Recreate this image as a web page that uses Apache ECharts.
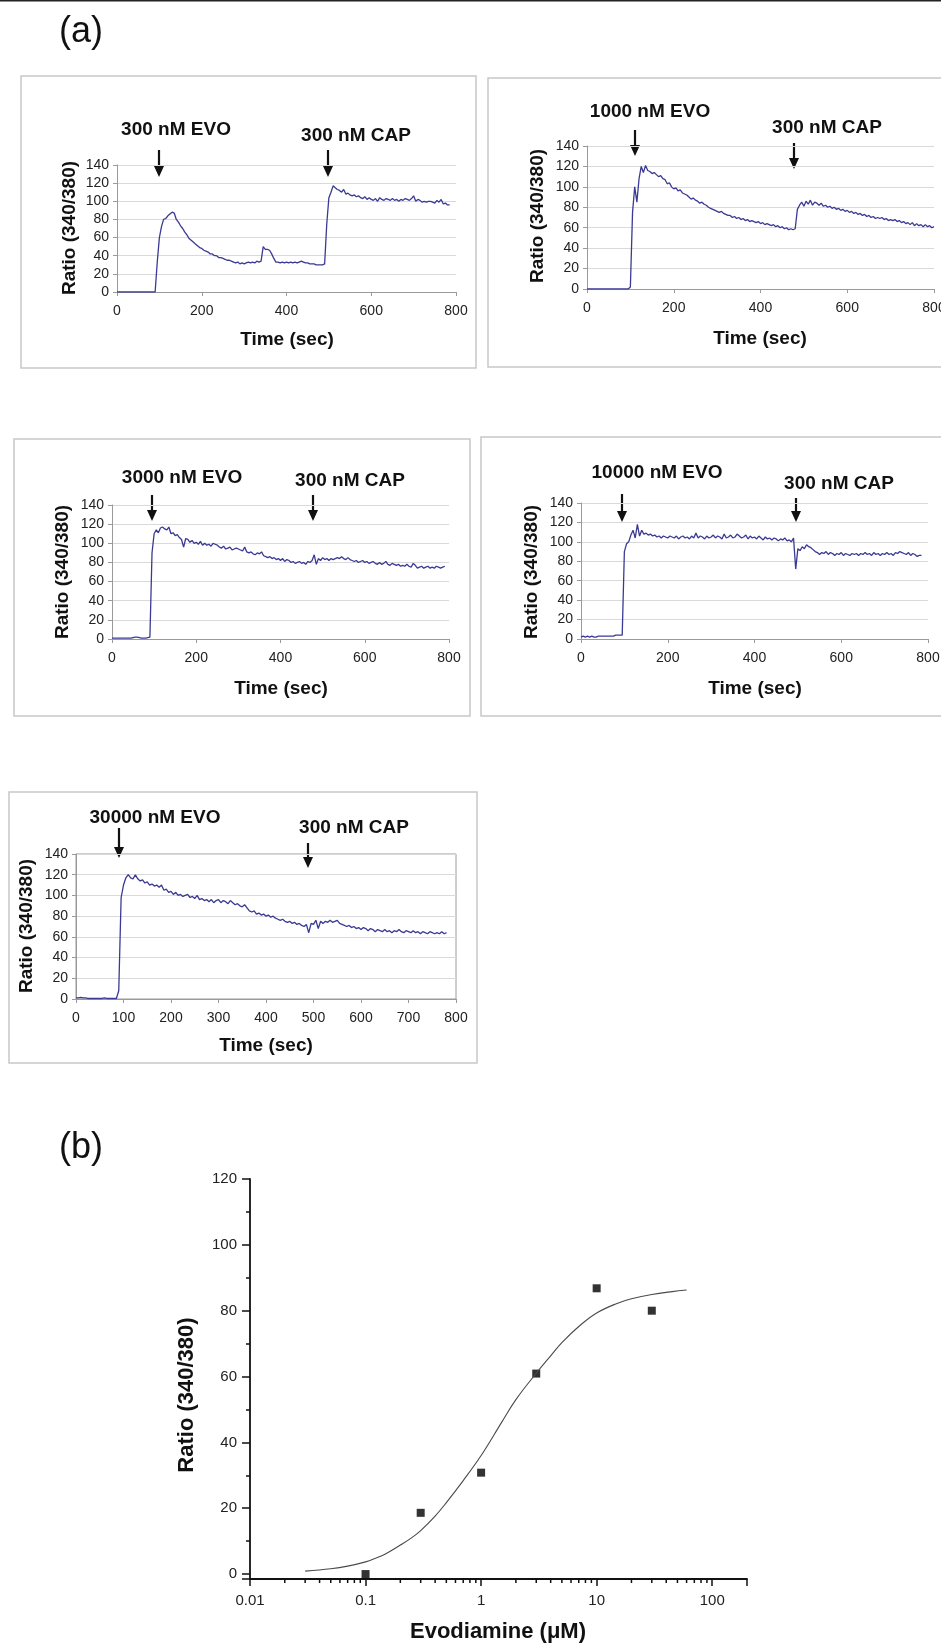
<!DOCTYPE html>
<html>
<head>
<meta charset="utf-8">
<script src="https://cdn.jsdelivr.net/npm/echarts@6/dist/echarts.min.js"></script>
<style>
  html, body { margin: 0; padding: 0; background: #fff; }
  #chart { width: 941px; height: 1645px; }
</style>
</head>
<body>
<div id="chart"></div>
<script>
// sampling times (sec), shared by all traces
const TIME = [
  0, 5, 10, 15, 20, 25, 30, 35, 40, 45, 50, 55, 60, 65, 70, 75, 80, 85, 90, 95,
  100, 105, 110, 115, 120, 125, 130, 135, 140, 145, 150, 155, 160, 165, 170, 175, 180, 185, 190, 195,
  200, 205, 210, 215, 220, 225, 230, 235, 240, 245, 250, 255, 260, 265, 270, 275, 280, 285, 290, 295,
  300, 305, 310, 315, 320, 325, 330, 335, 340, 345, 350, 355, 360, 365, 370, 375, 380, 385, 390, 395,
  400, 405, 410, 415, 420, 425, 430, 435, 440, 445, 450, 455, 460, 465, 470, 475, 480, 485, 490, 495,
  500, 505, 510, 515, 520, 525, 530, 535, 540, 545, 550, 555, 560, 565, 570, 575, 580, 585, 590, 595,
  600, 605, 610, 615, 620, 625, 630, 635, 640, 645, 650, 655, 660, 665, 670, 675, 680, 685, 690, 695,
  700, 705, 710, 715, 720, 725, 730, 735, 740, 745, 750, 755, 760, 765, 770, 775, 780, 785, 790, 795,
  800
];

// ratio 340/380 traces
const EVO_300 = [
  0, 0, 0, 0, 0, 0, 0, 0, 0, 0, 0, 0, 0, 0, 0, 0, 0, 0, 0, 33,
  60, 72, 80, 81, 84, 86, 88, 87, 80, 77, 73, 70, 66, 63, 59, 57, 55, 53, 51, 49,
  48, 46, 45, 44, 42, 42, 40, 40, 38, 38, 37, 36, 35, 35, 34, 33, 32, 33, 31, 32,
  31, 32, 33, 32, 33, 32, 34, 33, 34, 50, 47, 47, 46, 42, 37, 33, 33, 32, 33, 32,
  33, 32, 33, 32, 33, 32, 33, 34, 33, 32, 32, 31, 31, 31, 30, 30, 30, 30, 31, 75,
  104, 110, 117, 115, 113, 112, 110, 113, 108, 109, 107, 106, 107, 105, 106, 104, 103, 105, 102, 104,
  102, 101, 103, 100, 104, 102, 101, 103, 102, 101, 103, 101, 102, 100, 102, 101, 103, 102, 101, 103,
  106, 100, 102, 101, 99, 100, 99, 100, 100, 99, 98, 101, 99, 102, 97, 98, 96, 96
];
const EVO_1000 = [
  0, 0, 0, 0, 0, 0, 0, 0, 0, 0, 0, 0, 0, 0, 0, 0, 0, 0, 0, 0,
  2, 75, 100, 85, 108, 120, 114, 121, 116, 115, 113, 114, 112, 110, 111, 108, 107, 103, 104, 100,
  98, 99, 96, 97, 94, 93, 92, 90, 88, 89, 87, 86, 84, 85, 83, 82, 80, 79, 78, 77,
  76, 75, 76, 74, 73, 72, 72, 70, 71, 69, 70, 68, 69, 67, 68, 66, 67, 66, 65, 66,
  64, 65, 63, 64, 63, 62, 63, 61, 62, 60, 61, 59, 60, 58, 59, 58, 59, 78, 82, 85,
  81, 86, 83, 87, 82, 85, 84, 82, 84, 81, 82, 80, 81, 79, 80, 78, 79, 77, 78, 76,
  77, 75, 76, 74, 75, 73, 74, 72, 73, 71, 72, 70, 71, 69, 70, 69, 70, 68, 69, 67,
  68, 67, 68, 66, 67, 65, 66, 64, 65, 63, 65, 62, 64, 62, 63, 61, 63, 61, 62, 60,
  61
];
const EVO_3000 = [
  1, 1, 1, 1, 1, 1, 1, 1, 1, 1, 1.5, 2, 2, 1.5, 1, 1, 1, 1.5, 2, 90,
  110, 114, 111, 116, 117, 115, 114, 117, 110, 111, 108, 109, 106, 104, 96, 105, 104, 101, 103, 100,
  101, 99, 102, 98, 100, 98, 99, 97, 100, 99, 98, 96, 95, 97, 94, 95, 96, 93, 94, 95,
  94, 93, 92, 96, 91, 90, 91, 89, 88, 90, 89, 91, 87, 86, 85, 86, 84, 85, 83, 84,
  82, 84, 81, 83, 82, 80, 81, 79, 80, 81, 79, 80, 78, 81, 80, 82, 88, 78, 84, 82,
  85, 83, 84, 82, 84, 83, 84, 85, 84, 86, 84, 83, 85, 83, 82, 81, 82, 80, 81, 82,
  80, 81, 79, 80, 81, 79, 78, 80, 78, 79, 81, 78, 77, 79, 78, 77, 78, 76, 77, 76,
  78, 76, 75, 79, 77, 74, 75, 76, 74, 75, 76, 74, 75, 74, 76, 75, 74, 75, 76
];
const EVO_10000 = [
  2, 3, 2, 3, 2, 3, 2, 2, 3, 3, 3, 3, 3, 3, 3, 3, 4, 4, 4, 4,
  90, 98, 100, 107, 112, 104, 118, 106, 112, 108, 109, 107, 108, 106, 107, 105, 106, 104, 106, 105,
  104, 106, 105, 104, 106, 103, 105, 106, 104, 105, 103, 106, 104, 109, 104, 106, 105, 103, 106, 104,
  105, 107, 104, 106, 105, 103, 108, 104, 105, 107, 104, 105, 108, 106, 104, 105, 107, 103, 106, 104,
  105, 103, 106, 104, 102, 105, 103, 104, 102, 104, 103, 101, 103, 102, 104, 101, 102, 100, 104, 72,
  93, 91, 95, 93, 97, 95, 94, 92, 90, 89, 87, 89, 88, 90, 87, 89, 88, 86, 88, 87,
  89, 86, 88, 87, 86, 88, 87, 88, 86, 88, 87, 89, 87, 88, 86, 89, 87, 88, 86, 88,
  87, 89, 87, 88, 86, 89, 88, 90, 89, 88, 87, 89, 86, 88, 87, 85, 86, 86
];
const EVO_30000 = [
  1, 1, 1.5, 1, 1, 0.5, 0.5, 0.5, 0.5, 0.5, 0.5, 0.5, 1, 0.5, 0.5, 0.5, 0.5, 0.5, 8, 98,
  110, 117, 120, 117, 116, 120, 116, 114, 115, 112, 113, 110, 111, 109, 110, 108, 110, 105, 106, 103,
  104, 101, 103, 100, 101, 99, 100, 101, 98, 99, 97, 100, 96, 97, 95, 96, 94, 96, 93, 95,
  96, 93, 95, 94, 92, 95, 93, 91, 92, 90, 89, 91, 88, 85, 84, 85, 82, 83, 81, 82,
  80, 81, 79, 80, 78, 77, 76, 77, 75, 74, 75, 73, 74, 72, 73, 71, 70, 72, 64, 73,
  72, 76, 68, 75, 73, 75, 74, 76, 74, 75, 76, 73, 72, 71, 70, 71, 69, 70, 68, 69,
  67, 69, 68, 66, 68, 67, 65, 67, 66, 65, 67, 65, 66, 64, 66, 65, 67, 65, 64, 66,
  65, 64, 66, 64, 65, 63, 65, 64, 63, 65, 64, 63, 64, 63, 65, 63, 64
];

// panel (b): dose-response
const DOSE_UM = [0.1, 0.3, 1, 3, 10, 30];
const DOSE_RATIO = [0, 18.6, 30.8, 60.9, 86.8, 80.0];
const FIT_X = [0.03, 0.05, 0.07, 0.1, 0.12, 0.15, 0.2, 0.25, 0.3, 0.4, 0.5, 0.7, 1, 1.5, 2, 3, 4, 5, 7, 10, 15, 20, 30, 45, 60];
const FIT_Y = [0.9, 1.6, 2.4, 3.7, 4.7, 6.2, 8.8, 11.0, 13.2, 17.6, 21.7, 28.4, 36, 46, 53, 61, 66.3, 70.3, 75.2, 79.3, 82.2, 83.6, 84.9, 85.8, 86.3];
const LOG_MINOR_TICKS = [
  0.02, 0.03, 0.04, 0.05, 0.06, 0.07, 0.08, 0.09,
  0.2, 0.3, 0.4, 0.5, 0.6, 0.7, 0.8, 0.9,
  2, 3, 4, 5, 6, 7, 8, 9,
  20, 30, 40, 50, 60, 70, 80, 90
];
const LOG_LABELS = ['0.01', '0.1', '1', '10', '100'];

const EVO_LABELS = ['300 nM EVO', '1000 nM EVO', '3000 nM EVO', '10000 nM EVO', '30000 nM EVO'];
const CAP_LABEL = '300 nM CAP';
const Y_TITLE = 'Ratio (340/380)';
const X_TITLE_A = 'Time (sec)';
const X_TITLE_B = 'Evodiamine (\u03bcM)';

const FONT = "'Liberation Sans', Arial, Helvetica, sans-serif";
const TRACE_COLOR = '#3a3a94';
const AXIS_GREY = '#9a9a9a';
const GRID_GREY = '#d9d9d9';

const chart = echarts.init(document.getElementById('chart'), null, { renderer: 'canvas' });

// plot areas, one per panel
const grids = [
  { left: 117, top: 165, width: 339, height: 127 },
  { left: 587, top: 146, width: 347, height: 143 },
  { left: 112, top: 505, width: 337, height: 134 },
  { left: 581, top: 503, width: 347, height: 136 },
  { left: 76, top: 854, width: 380, height: 145, show: true, borderColor: AXIS_GREY, borderWidth: 1 },
  { left: 250, top: 1179, width: 497, height: 400 }
].map(g => Object.assign({ containLabel: false, outerBoundsMode: 'none' }, g));

const traces = [EVO_300, EVO_1000, EVO_3000, EVO_10000, EVO_30000];
const xAxes = [], yAxes = [], series = [];

traces.forEach(function(vals, i) {
  xAxes.push({
    type: 'value', gridIndex: i, min: 0, max: 800, interval: i === 4 ? 100 : 200,
    axisLine: { show: true, lineStyle: { color: AXIS_GREY, width: 1 } },
    axisTick: { show: true, length: 4, lineStyle: { color: AXIS_GREY } },
    splitLine: { show: false },
    axisLabel: { show: true, showMinLabel: true, showMaxLabel: true, margin: 12, fontSize: 14, color: '#222', fontFamily: FONT }
  });
  yAxes.push({
    type: 'value', gridIndex: i, min: 0, max: 140, interval: 20,
    axisLine: { show: true, lineStyle: { color: AXIS_GREY, width: 1 } },
    axisTick: { show: true, length: 4, lineStyle: { color: AXIS_GREY } },
    splitLine: { show: true, lineStyle: { color: GRID_GREY, width: 1 } },
    axisLabel: { show: true, showMinLabel: true, showMaxLabel: true, margin: 8, fontSize: 14, color: '#222', fontFamily: FONT }
  });
  series.push({
    type: 'line', xAxisIndex: i, yAxisIndex: i, showSymbol: false, animation: false,
    lineStyle: { color: TRACE_COLOR, width: 1.3 },
    data: vals.map((v, k) => [TIME[k], v])
  });
});

// panel (b) axes
xAxes.push({
  type: 'log', logBase: 10, gridIndex: 5, min: 0.01, max: 200,
  axisLine: { show: true, onZero: false, lineStyle: { color: '#111', width: 1.8 } },
  axisTick: { show: true, length: 7, lineStyle: { color: '#111', width: 1.5 } },
  splitLine: { show: false },
  axisLabel: {
    show: true, showMinLabel: true, showMaxLabel: true, margin: 14, fontSize: 15, color: '#222', fontFamily: FONT,
    formatter: function(v) {
      const l = Math.log10(v);
      if (Math.abs(l - Math.round(l)) > 1e-6) return '';
      return LOG_LABELS[Math.round(l) + 2] || '';
    }
  }
});
yAxes.push({
  type: 'value', gridIndex: 5, min: -1.5, max: 120, splitNumber: 6,
  axisLine: { show: true, onZero: false, lineStyle: { color: '#111', width: 1.8 } },
  axisTick: { show: true, length: 8, lineStyle: { color: '#111', width: 1.5 } },
  minorTick: { show: true, splitNumber: 2, length: 4, lineStyle: { color: '#111', width: 1.5 } },
  splitLine: { show: false },
  axisLabel: {
    show: true, margin: 13, fontSize: 15, color: '#222', fontFamily: FONT,
    formatter: v => (Math.abs(v % 20) < 1e-6 ? String(v) : '')
  }
});

series.push({
  type: 'line', xAxisIndex: 5, yAxisIndex: 5, smooth: 0.4, showSymbol: false, animation: false,
  lineStyle: { color: '#4a4a4a', width: 1.1 },
  data: FIT_X.map((x, k) => [x, FIT_Y[k]])
});
series.push({
  type: 'scatter', xAxisIndex: 5, yAxisIndex: 5, symbol: 'rect', symbolSize: 8, animation: false,
  itemStyle: { color: '#000' },
  data: DOSE_UM.map((x, k) => [x, DOSE_RATIO[k]])
});
// log-spaced minor ticks under the x axis of (b)
series.push({
  type: 'custom', xAxisIndex: 5, yAxisIndex: 5, silent: true, clip: false, animation: false,
  data: LOG_MINOR_TICKS.map(v => [v, -1.5]),
  renderItem: function(params, api) {
    const p = api.coord([api.value(0), api.value(1)]);
    return {
      type: 'line',
      shape: { x1: p[0], y1: p[1], x2: p[0], y2: p[1] + 4 },
      style: { stroke: '#111', lineWidth: 1.5 }
    };
  }
});

// decorations: frames, titles, arrows
function frame(x, y, w, h) {
  return { type: 'rect', shape: { x: x, y: y, width: w, height: h }, style: { fill: 'none', stroke: '#c8c8c8', lineWidth: 1.5 }, z: 0 };
}
function label(x, y, s, size, opts) {
  opts = opts || {};
  return {
    type: 'text', x: x, y: y, rotation: opts.rot || 0, z: 10,
    style: {
      text: s, fontSize: size, fontWeight: opts.weight || 'bold', fontFamily: FONT,
      fill: '#111', align: 'center', verticalAlign: 'middle'
    }
  };
}
function arrow(x, y1, y2) {
  return {
    type: 'group', z: 10,
    children: [
      { type: 'line', shape: { x1: x, y1: y1, x2: x, y2: y2 - 9 }, style: { stroke: '#111', lineWidth: 2.2 } },
      { type: 'polygon', shape: { points: [[x - 5, y2 - 11], [x + 5, y2 - 11], [x, y2]] }, style: { fill: '#111' } }
    ]
  };
}
const R90 = Math.PI / 2;

const panels = [
  { box: [21, 76, 455, 292], ylab: [70, 228], xlab: [287, 340], evo: [176, 130], evoArrow: [159, 150, 177], cap: [356, 136], capArrow: [328, 150, 177] },
  { box: [488, 78, 470, 289], ylab: [538, 216], xlab: [760, 339], evo: [650, 112], evoArrow: [635, 130, 156], cap: [827, 128], capArrow: [794, 143, 169] },
  { box: [14, 439, 456, 277], ylab: [63, 572], xlab: [281, 689], evo: [182, 478], evoArrow: [152, 495, 521], cap: [350, 481], capArrow: [313, 495, 521] },
  { box: [481, 437, 470, 279], ylab: [532, 572], xlab: [755, 689], evo: [657, 473], evoArrow: [622, 494, 522], cap: [839, 484], capArrow: [796, 498, 522] },
  { box: [9, 792, 468, 271], ylab: [27, 926], xlab: [266, 1046], evo: [155, 818], evoArrow: [119, 828, 858], cap: [354, 828], capArrow: [308, 843, 868] }
];

const elements = [
  { type: 'rect', shape: { x: 0, y: 0, width: 941, height: 1.5 }, style: { fill: '#222' } },
  label(81, 32, '(a)', 36, { weight: 'normal' }),
  label(81, 1148, '(b)', 36, { weight: 'normal' })
];
panels.forEach(function(p, i) {
  elements.push(frame(p.box[0], p.box[1], p.box[2], p.box[3]));
  elements.push(label(p.ylab[0], p.ylab[1], Y_TITLE, 19, { rot: R90 }));
  elements.push(label(p.xlab[0], p.xlab[1], X_TITLE_A, 19));
  elements.push(label(p.evo[0], p.evo[1], EVO_LABELS[i], 19));
  elements.push(label(p.cap[0], p.cap[1], CAP_LABEL, 19));
  elements.push(arrow(p.evoArrow[0], p.evoArrow[1], p.evoArrow[2]));
  elements.push(arrow(p.capArrow[0], p.capArrow[1], p.capArrow[2]));
});
elements.push(label(187, 1395, Y_TITLE, 22, { rot: R90 }));
elements.push(label(498, 1632, X_TITLE_B, 22));

chart.setOption({
  animation: false,
  backgroundColor: '#fff',
  grid: grids,
  xAxis: xAxes,
  yAxis: yAxes,
  series: series,
  graphic: { elements: elements }
});
</script>
</body>
</html>
